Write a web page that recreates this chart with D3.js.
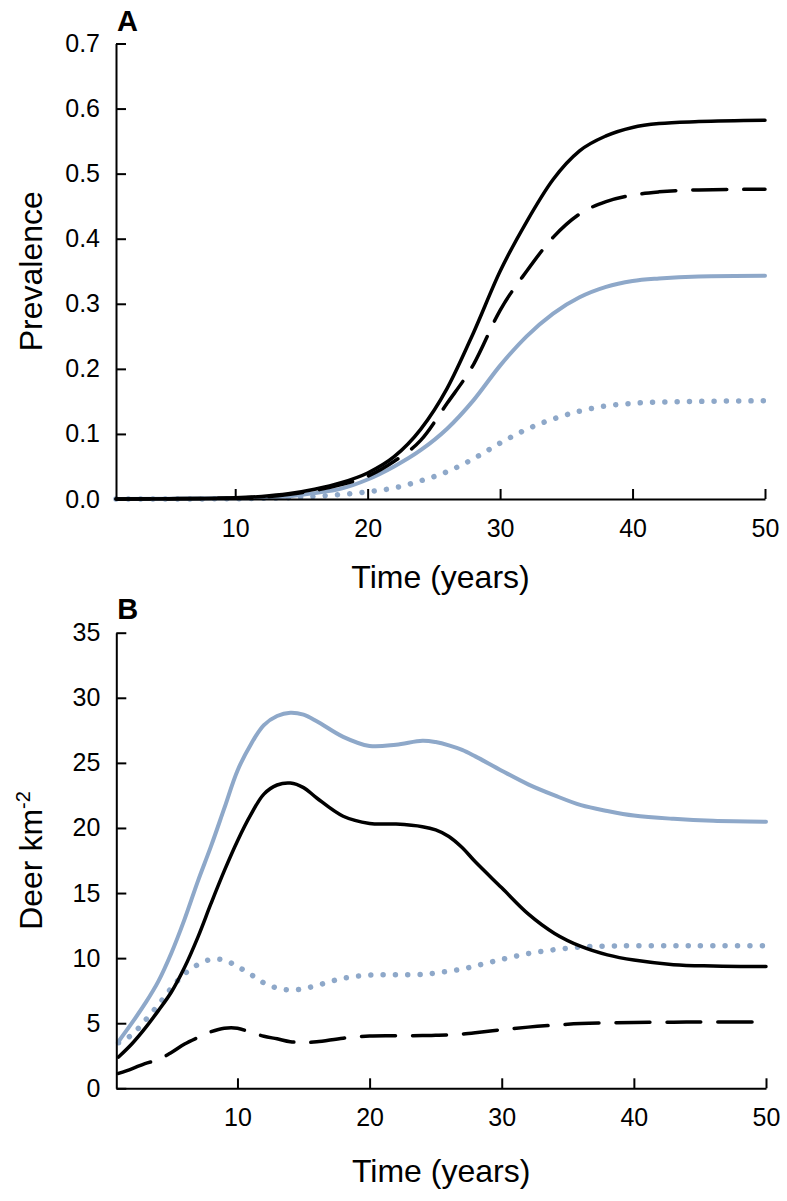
<!DOCTYPE html>
<html>
<head>
<meta charset="utf-8">
<script src="https://cdn.jsdelivr.net/npm/d3@7"></script>
<style>
  body { margin: 0; background: #fff; }
  svg { font-family: "Liberation Sans", Arial, sans-serif; }
</style>
</head>
<body>
<div id="chart"></div>
<script>
// panel A - prevalence
const yearsA = [1, 5, 10, 12, 14, 16, 18, 20, 22, 24, 26, 28, 30, 32, 34, 36, 38, 40, 42, 45, 50];
const prevBlackSolid = [0, 0.0005, 0.002, 0.004, 0.008, 0.015, 0.025, 0.04, 0.065, 0.107, 0.17, 0.256, 0.35, 0.426, 0.491, 0.535, 0.558, 0.571, 0.577, 0.58, 0.582];
const prevBlackDashed = [0, 0.0004, 0.0015, 0.003, 0.007, 0.013, 0.022, 0.035, 0.058, 0.09, 0.147, 0.207, 0.29, 0.35, 0.402, 0.438, 0.457, 0.467, 0.472, 0.475, 0.476];
const prevBlueSolid = [0, 0.0002, 0.001, 0.002, 0.004, 0.009, 0.016, 0.03, 0.05, 0.075, 0.108, 0.152, 0.205, 0.25, 0.285, 0.31, 0.326, 0.335, 0.339, 0.342, 0.343];
const prevBlueDotted = [0, 0, 0.0005, 0.001, 0.002, 0.004, 0.007, 0.011, 0.017, 0.028, 0.042, 0.062, 0.086, 0.107, 0.123, 0.135, 0.143, 0.147, 0.149, 0.15, 0.151];

// panel B - deer density
const yearsB = [1, 2, 3, 4, 5, 6, 7, 8, 9, 10, 11, 12, 13, 14, 15, 16, 18, 20, 22, 24, 25, 26, 27, 28, 30, 32, 34, 36, 38, 40, 43, 46, 50];
const deerBlueSolid = [3.6, 5.0, 6.5, 8.2, 10.4, 13.0, 15.9, 18.6, 21.5, 24.4, 26.4, 27.9, 28.6, 28.85, 28.7, 28.2, 27.0, 26.3, 26.4, 26.7, 26.6, 26.35, 26.0, 25.5, 24.4, 23.35, 22.5, 21.75, 21.3, 20.95, 20.7, 20.55, 20.48];
const deerBlackSolid = [2.4, 3.4, 4.6, 5.95, 7.4, 9.3, 11.6, 14.2, 16.7, 19.0, 21.0, 22.6, 23.3, 23.45, 23.1, 22.3, 20.9, 20.35, 20.3, 20.1, 19.85, 19.35, 18.5, 17.4, 15.4, 13.4, 11.9, 10.9, 10.25, 9.85, 9.5, 9.4, 9.35];
const deerBlueDotted = [3.5, 4.1, 5.2, 6.4, 7.7, 8.8, 9.5, 9.9, 9.85, 9.35, 8.75, 8.1, 7.7, 7.55, 7.65, 7.9, 8.45, 8.7, 8.72, 8.75, 8.85, 9.0, 9.15, 9.4, 9.9, 10.35, 10.65, 10.85, 10.93, 10.95, 10.95, 10.95, 10.95];
const deerBlackDashed = [1.15, 1.5, 1.9, 2.2, 2.75, 3.4, 3.9, 4.35, 4.62, 4.62, 4.3, 4.0, 3.8, 3.58, 3.52, 3.57, 3.85, 4.02, 4.04, 4.05, 4.07, 4.1, 4.17, 4.27, 4.5, 4.7, 4.85, 4.97, 5.03, 5.06, 5.08, 5.09, 5.1];

const xTicks = [10, 20, 30, 40, 50];
const prevTicks = [0, 0.1, 0.2, 0.3, 0.4, 0.5, 0.6, 0.7];
const deerTicks = [0, 5, 10, 15, 20, 25, 30, 35];

const width = 787;
const height = 1201;
const blue = '#8ea8c9';

const svg = d3.select('#chart')
  .append('svg')
  .attr('width', width)
  .attr('height', height);

const styles = {
  blackSolid: {color: '#000', width: 3.5, dash: null},
  blackDashed: {color: '#000', width: 3.5, dash: '34 17'},
  blueSolid: {color: blue, width: 4, dash: null},
  blueDotted: {color: blue, width: 5.5, dash: '0.01 12.3'}
};

function drawPanel(cfg) {
  const x = d3.scaleLinear().domain(cfg.xDomain).range(cfg.xRange);
  const y = d3.scaleLinear().domain(cfg.yDomain).range(cfg.yRange);

  const g = svg.append('g');

  const line = d3.line()
    .x((d) => x(d[0]))
    .y((d) => y(d[1]))
    .curve(cfg.curve);

  cfg.series.forEach((s) => {
    const st = styles[s.style];
    const pts = cfg.years.map((yr, i) => [yr, s.values[i]]);
    g.append('path')
      .attr('d', line(pts))
      .attr('fill', 'none')
      .attr('stroke', st.color)
      .attr('stroke-width', st.width)
      .attr('stroke-linecap', 'round')
      .attr('stroke-linejoin', 'round')
      .attr('stroke-dasharray', st.dash);
  });

  const xAxis = d3.axisBottom(x)
    .tickValues(xTicks)
    .tickSizeInner(-10)
    .tickSizeOuter(0)
    .tickPadding(20)
    .tickFormat(d3.format('d'));

  const gx = g.append('g')
    .attr('transform', `translate(0, ${cfg.yRange[0]})`)
    .call(xAxis);

  const yAxis = d3.axisLeft(y)
    .tickValues(cfg.yTicks)
    .tickSizeInner(-10)
    .tickSizeOuter(0)
    .tickPadding(16)
    .tickFormat(cfg.yFormat);

  const gy = g.append('g')
    .attr('transform', `translate(${cfg.xRange[0]}, 0)`)
    .call(yAxis);

  [gx, gy].forEach((ax) => {
    ax.select('.domain').attr('stroke', '#000').attr('stroke-width', 2);
    ax.selectAll('.tick line').attr('stroke', '#000').attr('stroke-width', 2);
    ax.selectAll('.tick text')
      .attr('fill', '#000')
      .style('font-size', '25px')
      .style('font-family', '"Liberation Sans", Arial, sans-serif');
  });

  g.append('text')
    .attr('x', cfg.xRange[0] + 1)
    .attr('y', cfg.letterY)
    .style('font-size', '29px')
    .style('font-weight', 'bold')
    .text(cfg.letter);

  g.append('text')
    .attr('x', (cfg.xRange[0] + cfg.xRange[1]) / 2)
    .attr('y', cfg.xTitleY)
    .attr('text-anchor', 'middle')
    .style('font-size', '32px')
    .text('Time (years)');

  const yTitle = g.append('text')
    .attr('transform', `translate(42, ${(cfg.yRange[0] + cfg.yRange[1]) / 2}) rotate(-90)`)
    .attr('text-anchor', 'middle')
    .style('font-size', '32px');
  cfg.yTitle(yTitle);
}

drawPanel({
  years: yearsA,
  xDomain: [1, 50], xRange: [116, 765],
  yDomain: [0, 0.7], yRange: [499, 43.5],
  yTicks: prevTicks, yFormat: d3.format('.1f'),
  curve: d3.curveMonotoneX,
  letter: 'A', letterY: 31, xTitleY: 588,
  yTitle: (t) => t.text('Prevalence'),
  series: [
    {values: prevBlueDotted, style: 'blueDotted'},
    {values: prevBlueSolid, style: 'blueSolid'},
    {values: prevBlackDashed, style: 'blackDashed'},
    {values: prevBlackSolid, style: 'blackSolid'}
  ]
});

drawPanel({
  years: yearsB,
  xDomain: [0.83, 50], xRange: [116.3, 766],
  yDomain: [0, 35], yRange: [1088.3, 632.7],
  yTicks: deerTicks, yFormat: d3.format('d'),
  curve: d3.curveCatmullRom.alpha(0.5),
  letter: 'B', letterY: 619, xTitleY: 1182,
  yTitle: (t) => {
    t.append('tspan').text('Deer km');
    t.append('tspan').attr('dy', -12).style('font-size', '20px').text('-2');
  },
  series: [
    {values: deerBlueDotted, style: 'blueDotted'},
    {values: deerBlueSolid, style: 'blueSolid'},
    {values: deerBlackDashed, style: 'blackDashed'},
    {values: deerBlackSolid, style: 'blackSolid'}
  ]
});
</script>
</body>
</html>
